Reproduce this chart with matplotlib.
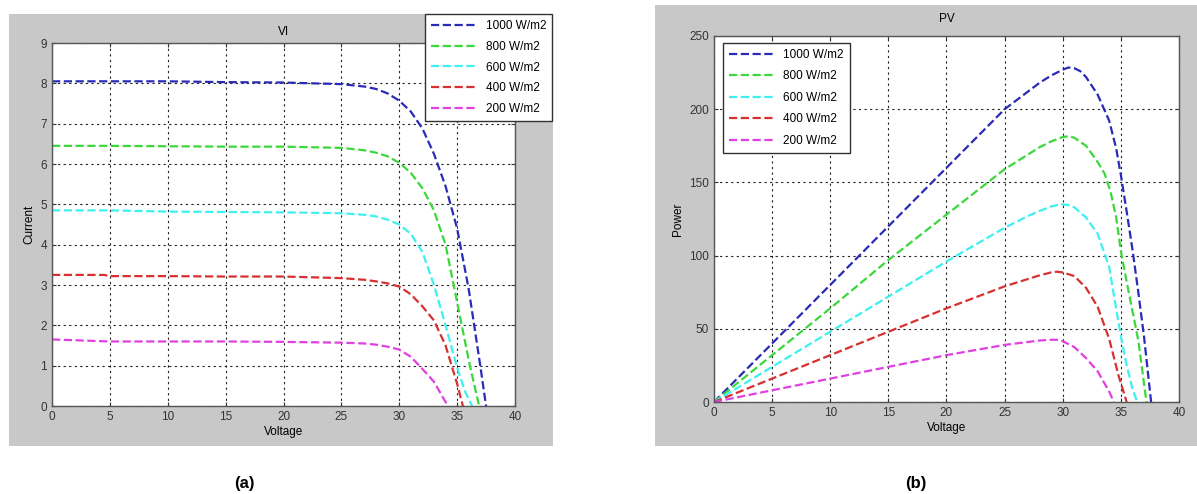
import matplotlib
matplotlib.use('Agg')
import matplotlib.pyplot as plt
from matplotlib.patches import Rectangle

plt.rcParams['font.family'] = ['Liberation Sans', 'DejaVu Sans']

LABELS = ['1000 W/m2', '800 W/m2', '600 W/m2', '400 W/m2', '200 W/m2']
COLORS = ['#2a2ab8', '#3ad83a', '#3ff0f0', '#d83030', '#e040e0']

# I-V curves
v_1000 = [0, 5, 10, 15, 20, 25, 27, 28, 29, 30, 31, 32, 33, 34, 35, 36, 37, 37.5]
i_1000 = [8.05, 8.05, 8.05, 8.03, 8.02, 7.98, 7.92, 7.86, 7.75, 7.57, 7.3, 6.88, 6.25, 5.45, 4.4, 2.9, 1.0, 0]
v_800 = [0, 5, 10, 15, 20, 25, 27, 28, 29, 30, 31, 32, 33, 34, 34.7, 35.4, 36.1, 36.9]
i_800 = [6.45, 6.45, 6.44, 6.43, 6.43, 6.4, 6.34, 6.28, 6.19, 6.03, 5.78, 5.4, 4.85, 4.0, 3.0, 2.0, 1.0, 0]
v_600 = [0, 5, 10, 15, 20, 25, 27, 28, 29, 30, 31, 32, 33, 34, 35, 35.7, 36.3]
i_600 = [4.85, 4.85, 4.82, 4.81, 4.8, 4.78, 4.74, 4.7, 4.62, 4.5, 4.27, 3.82, 3.0, 2.0, 0.95, 0.35, 0]
v_400 = [0, 4.5, 5, 10, 15, 20, 25, 27, 28, 29, 30, 31, 32, 33, 34, 35, 35.5]
i_400 = [3.25, 3.25, 3.22, 3.22, 3.21, 3.21, 3.17, 3.13, 3.09, 3.04, 2.96, 2.77, 2.47, 2.12, 1.5, 0.55, 0]
v_200 = [0, 2, 5, 10, 15, 20, 25, 27, 28, 29, 30, 31, 32, 33, 34, 34.2]
i_200 = [1.65, 1.63, 1.6, 1.6, 1.6, 1.59, 1.57, 1.55, 1.52, 1.47, 1.4, 1.22, 0.92, 0.6, 0.1, 0]

# P-V curves
pv_1000 = [0, 5, 10, 15, 20, 25, 27, 28, 29, 30, 30.5, 31, 31.5, 32, 33, 34, 34.6, 35, 35.5, 36, 36.5, 37, 37.6]
p_1000 = [0, 40, 80, 120, 160, 200, 212, 218, 223, 227, 228.5, 228, 226, 222, 210, 192, 173, 155, 130, 104, 75, 44, 0]
pv_800 = [0, 5, 10, 15, 20, 25, 27, 28, 29, 30, 30.5, 31, 32, 33, 33.6, 34.1, 34.6, 35, 35.5, 36, 36.5, 37, 37.2]
p_800 = [0, 32, 64, 97, 128, 159, 169, 174, 178, 181, 181.5, 180.5, 175, 164, 156, 144, 126, 103, 82, 62, 42, 12, 0]
pv_600 = [0, 5, 10, 15, 20, 25, 27, 28, 29, 29.5, 30, 30.5, 31, 32, 33, 34, 34.5, 35, 35.5, 36, 36.4]
p_600 = [0, 24, 48, 72, 96, 119, 127, 130.5, 133.5, 134.5, 135, 134.5, 133, 126, 115, 92, 68, 45, 25, 9, 0]
pv_400 = [0, 5, 10, 15, 20, 25, 27, 28, 29, 29.5, 30, 31, 32, 33, 34, 34.8, 35.5]
p_400 = [0, 16, 32, 48, 64, 79, 84, 86.5, 88.5, 89, 88.5, 86, 78, 65, 43, 18, 0]
pv_200 = [0, 5, 10, 15, 20, 25, 27, 28, 29, 29.5, 30, 31, 32, 33, 34, 34.4]
p_200 = [0, 8, 16, 24, 32, 39, 41, 42, 42.5, 42.5, 41.5, 37.5, 30, 21, 7, 0]

iv = [(v_1000, i_1000), (v_800, i_800), (v_600, i_600), (v_400, i_400), (v_200, i_200)]
pv = [(pv_1000, p_1000), (pv_800, p_800), (pv_600, p_600), (pv_400, p_400), (pv_200, p_200)]

W, H = 1197, 494
fig = plt.figure(figsize=(W / 100, H / 100), dpi=100)
fig.patch.set_facecolor('white')


def fx(px):
    return px / W


def fy(py):
    return 1 - py / H


# gray matlab figure panels, kept behind the axes
fig.patches.append(Rectangle((fx(9), fy(446)), fx(544), 432 / H, transform=fig.transFigure,
                             facecolor='#c8c8c8', edgecolor='none', zorder=-10))
fig.patches.append(Rectangle((fx(655), fy(446)), fx(542), 441 / H, transform=fig.transFigure,
                             facecolor='#c8c8c8', edgecolor='none', zorder=-10))


def style(ax, yticks):
    ax.set_facecolor('white')
    ax.set_xlim(0, 40)
    ax.set_xticks(range(0, 41, 5))
    ax.set_yticks(yticks)
    ax.set_ylim(yticks[0], yticks[-1])
    ax.grid(True, linestyle=(0, (2, 3)), color='#222222', linewidth=0.8)
    ax.tick_params(direction='in', labelsize=8.5, colors='#333333', length=3,
                   top=True, right=True)
    for s in ax.spines.values():
        s.set_color('#555555')
        s.set_linewidth(1.0)


ax1 = fig.add_axes([fx(52), fy(406), fx(463), 363 / H])
for (x, y), c, lab in zip(iv, COLORS, LABELS):
    ax1.plot(x, y, '--', color=c, lw=1.6, label=lab)
style(ax1, list(range(0, 10)))
ax1.set_xlabel('Voltage', fontsize=8.5, labelpad=2)
ax1.set_ylabel('Current', fontsize=8.5, labelpad=4)
ax1.text(0.5, 1.015, 'VI', transform=ax1.transAxes, ha='center', va='bottom', fontsize=8.5)
ax1.legend(loc='upper right', bbox_to_anchor=(fx(552), fy(14)), bbox_transform=fig.transFigure,
           fontsize=8.5, frameon=True, fancybox=False, edgecolor='#333333', framealpha=1,
           handlelength=3.8, labelspacing=0.75, borderpad=0.5, borderaxespad=0)

ax2 = fig.add_axes([fx(714), fy(402), fx(465), 366 / H])
for (x, y), c, lab in zip(pv, COLORS, LABELS):
    ax2.plot(x, y, '--', color=c, lw=1.6, label=lab)
style(ax2, list(range(0, 251, 50)))
ax2.set_xlabel('Voltage', fontsize=8.5, labelpad=2)
ax2.set_ylabel('Power', fontsize=8.5, labelpad=4)
ax2.text(0.5, 1.03, 'PV', transform=ax2.transAxes, ha='center', va='bottom', fontsize=8.5)
ax2.legend(loc='upper left', bbox_to_anchor=(fx(723), fy(43)), bbox_transform=fig.transFigure,
           fontsize=8.5, frameon=True, fancybox=False, edgecolor='#333333', framealpha=1,
           handlelength=3.8, labelspacing=0.8, borderpad=0.5, borderaxespad=0)

fig.text(fx(244), fy(483), '(a)', ha='center', va='center', fontsize=12, fontweight='bold')
fig.text(fx(916), fy(483), '(b)', ha='center', va='center', fontsize=12, fontweight='bold')

fig.savefig('out.png', dpi=100)
